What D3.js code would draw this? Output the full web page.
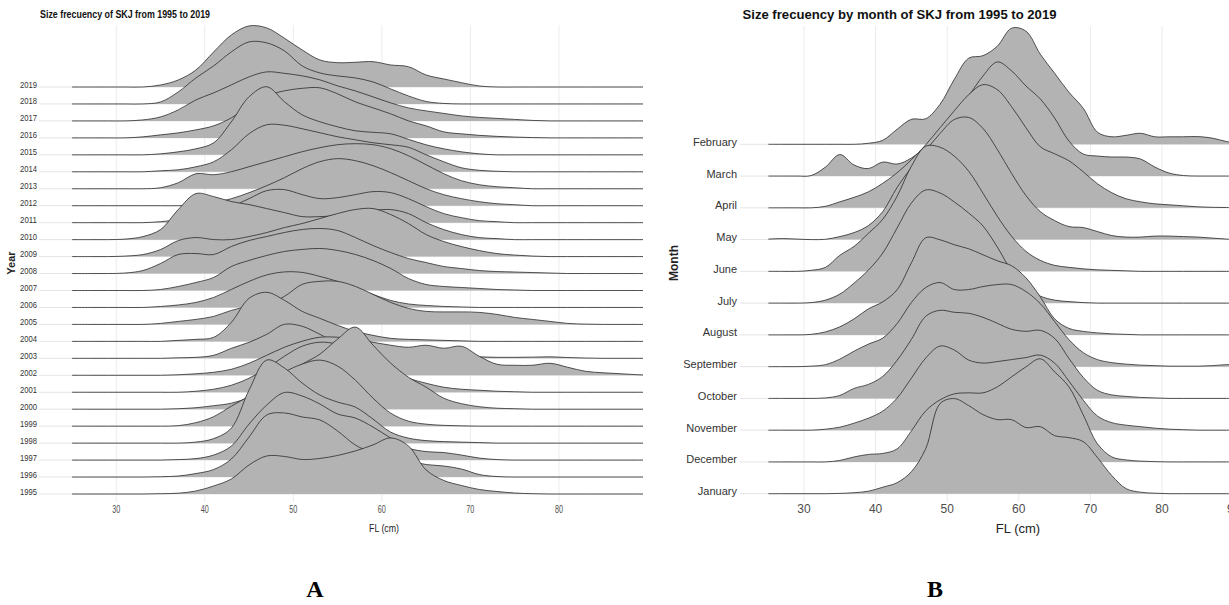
<!DOCTYPE html>
<html>
<head>
<meta charset="utf-8">
<script src="https://cdn.jsdelivr.net/npm/d3@7/dist/d3.min.js"></script>
<style>
  html, body { margin: 0; padding: 0; background: #ffffff; }
  svg { display: block; }
</style>
</head>
<body>
<svg id="fig" width="1229" height="605"></svg>
<script>
// Fork-length classes (cm) at which each smoothed frequency curve is sampled
const lengthGrid = [25,27,29,31,33,35,37,39,41,43,45,47,49,51,53,55,57,59,61,63,65,67,69,71,73,75,77,79,81,83,85,87,89,91];

// Panel A: one curve per year, listed bottom (1995) to top (2019)
const years = ["1995","1996","1997","1998","1999","2000","2001","2002","2003","2004","2005","2006","2007",
               "2008","2009","2010","2011","2012","2013","2014","2015","2016","2017","2018","2019"];
const yearDensity = [
  [0,0,0,0,0,0.3,0.8,3,8,15,29,38,37.5,34.5,35.5,38.5,43,49,56,48,24,13.5,8.5,4.5,2.5,1,0.3,0,0,0,0,0,0,0], // 1995
  [0,0,0,0,0,0.3,1,3.5,7.5,18,40,62,64,60,57,46,32,24,19,16,12.5,11,8,2.5,0.5,0,0,0,0,0,0,0,0,0],          // 1996
  [0,0,0,0,0,0,0.5,1.5,5,14,36,55,67.5,64,56,46,42,33,22,12,8.5,7.5,5,2,0.5,0,0,0,0,0,0,0,0,0],            // 1997
  [0,0,0,0,0,0,0,1,4.5,15,53,83,75,60,48,41,36,24,11,5,2.5,1.5,1,0.5,0,0,0,0,0,0,0,0,0,0],                 // 1998
  [0,0,0,0,0,0,0.5,3.5,9.5,20,30,42,54,62,66,60,46,28,13,5,2,0.8,0.3,0,0,0,0,0,0,0,0,0,0,0],               // 1999
  [0,0,0,0,0,0,0.5,1.5,3.5,6,12,22,35,45,55,70,82,64,46,32,22,11,5.5,2.5,1,0.5,0,0,0,0,0,0,0,0],          // 2000
  [0,0,0,0,0,0,0,1,3,7,14,24,36,46,50,48,42,32,22,14,9,5,3,2,1,0.5,0,0,0,0,0,0,0,0],                      // 2001
  [0,0,0,0,0,0,0.5,1.5,3,6,12,20,28,34,38,38,36,33,30,28,30,27,29,19,11,10,10,12,8,4,2.5,1.5,0.5,0],      // 2002
  [0,0,0,0,0,0,0.5,1,3,10,16,24,34,32,24,15,11,8,6,4.5,3.5,2.5,2,1.5,1,1,1.2,1.5,0.8,0.3,0,0,0,0],        // 2003
  [0,0,0,0,0,0,1,2,4,19,43,49,41,30,23,16,10,6,3,2,1.5,1,0.5,0,0,0,0,0,0,0,0,0,0,0],                      // 2004
  [0,0,0,0,0,1,3,5,8,14,18,20,28,40,43,43,38,30,22,16,13,12.5,12.5,12,10,7,5,3,1,0.3,0,0,0,0],            // 2005
  [0,0,0,0,0,1,2.5,5,10,18,26,32.5,35.5,35,31,26,19,13,7,3.5,2,1,0.5,0,0,0,0,0,0,0,0,0,0,0],              // 2006
  [0,0,0,0,0,1,4,8,13,24,30,35,39,41,42,40,36,30,22,12,6,4,3,2,1,0.5,0,0,0,0,0,0,0,0],                    // 2007
  [0,0,0,0.5,3,10,19,20,19,27,33,37,41,44,45,43,36,28,21,15,11,7,5,3,2,1.5,1,0.5,0,0,0,0,0,0],            // 2008
  [0,0,0,0.5,2,7,16,19,17,17,20,24,29,33,38,43,47,48,42,33,22,15,10,6,3,1.5,0.5,0,0,0,0,0,0,0],           // 2009
  [0,0,0,0.5,3,10,30,46,43,38,35,31,27,23,23,24,26,29,30,26,17,10,5,2,1,0,0,0,0,0,0,0,0,0],               // 2010
  [0,0,0,0,0,1,3,6,10,16,24,32,33,28,24,25,28,31,30,24,16,9,5,2,1,0,0,0,0,0,0,0,0,0],                     // 2011
  [0,0,0,0,0,0,0,1,3,7,13,20,28,37,44,47,45,40,33,25,17,11,7,4,2,1,0,0,0,0,0,0,0,0],                      // 2012
  [0,0,0,0,0,1,6,15,14,17,22,27,32,37,41,44,45,44,40,33,24,15,8,4,2,1,0,0,0,0,0,0,0,0],                   // 2013
  [0,0,0,0,0,1,2,5,10,22,38,47,46.5,43,39,35,32,29,27,24.5,17,10,4,1.5,0.5,0,0,0,0,0,0,0,0,0],           // 2014
  [0,0,0,0,0,1,3,6,12,33,58,68,53,40,33,28,24,22.5,21,15.5,10,6,3,1,0,0,0,0,0,0,0,0,0,0],                // 2015
  [0,0,0,0,1,3,5,8,12,20,32,42,47,49.5,50,44,36,30,24,17,12,6,4,2.5,1.5,0.8,0.3,0,0,0,0,0,0,0],          // 2016
  [0,0,0,0,1,4,11,21,28,36,44,49,47.5,45,41,35,30,24,18,13,10,7.5,5,3.5,2.5,1.5,0.5,0,0,0,0,0,0,0],      // 2017
  [0,0,0,0,0,2,12,26,38,52,62,61,53,38,31,28,26,22,15,8,2.5,0.5,0,0,0,0,0,0,0,0,0,0,0,0],                // 2018
  [0,0,0,0,0,2,7,17,35,52,61,59,48.7,37,27,24.3,24.7,25.3,22,20.3,12,8,4.3,1,0,0,0,0,0,0,0,0,0,0]        // 2019
];

// Panel B: one curve per month, listed bottom (January) to top (February)
const months = ["January","December","November","October","September","August",
                "July","June","May","April","March","February"];
const monthDensity = [
  [0,0,0,0,0,0.3,1,2.5,6.5,11,22,45,90,95,88,79,74,74,66,67,58,56,52,36,18,5,1.5,0.5,0,0,0,0,0,0],          // January
  [0,0,0,0,0,1.5,5,7.5,8.5,13,31,51,62,68,69,69,75,85,95,103,90,75,47,18,5,2,0.8,0.3,0,0,0,0,0,0],          // December
  [0,0,0,0,1,3,7,12,19,32,52,72,84,80,70,67,68.5,70.5,72.5,75,67,49,30,14,7.5,5,3.5,2,1,0.5,0,0,0,0],       // November
  [0,0,0,0,0.5,3,10,14,22,38,59,82,88,86,85,81,75,69,67,68,60,40,21,8,3.5,2,1,0.5,0,0,0,0,0,0],              // October
  [0,0,0,0.5,2,7.5,15.5,22.5,28.5,43,64,79,84,77,77,80,82,82,75,63,45,27,14,7,4,2.5,1.5,1,0.5,0.5,0.5,1,2,2], // September
  [0,0,0,0.5,3,8,16,26,33,45,72,97,95,90,86,80,74,69,57,38,16,6.5,3.5,2,1,0.5,0,0,0,0,0,0,0,0],              // August
  [0,0,0,0.5,3,9,20,33,50,75,100,113,110,101,90,77,56,32,16,7,3,1.5,0.5,0,0,0,0,0,0,0,0,0,0,0],              // July
  [0,0,0,1,4,16,25,38,52,75,105,125,124,115,100,78,55,35,20,11,6,4,2.5,1.5,1,0.5,0,0,0,0,0,0,0,0],           // June
  [0.5,1,0.5,0,0.3,3,7,14,28,52,72,89,106,120,122,111,90,66,44,28,19,13,12,8,4,2.5,2.5,3.5,3.5,3,2.5,1.5,0.5,0], // May
  [0,0,0,0,1.5,6,10.5,16,24.5,35,48,63,80,97,113,123,118,101,80,61,54,47,36,24,15,9,6,4,3,2,1,0.5,0.3,0],   // April
  [0,0,0,0.5,9,21.5,11,7.5,14,12,18,30,45,62,80,100,114,105,90,77,58,35,22,20,19,19,17,9,3,0.5,0,0,0,0],    // March
  [0,0,0,0,0,0,0,1,4,15,25,25.5,40,65,86,88.5,98,116,113,90,71,52,36,12,7.5,9,11,7.5,7.5,7.5,7.7,6.2,2.8,1] // February
];

const ticksA = [30, 40, 50, 60, 70, 80];
const ticksB = [30, 40, 50, 60, 70, 80, 90];

const svg = d3.select("#fig");
const FILL = "#b3b3b3";
const LINE = "#2b2b2b";
const GRID = "#ebebeb";

function ridgePanel(opt) {
  const g = svg.append("g");
  const x = d3.scaleLinear().domain(opt.xDomain).range(opt.xRange);
  const y = d3.scalePoint().domain(opt.labels).range(opt.yRange);
  const step = y.step();
  const maxV = d3.max(opt.density.flat());
  // tallest curve reaches `ridgeScale` row spacings
  const h = d3.scaleLinear().domain([0, maxV]).range([0, opt.ridgeScale * step]);
  const curve = d3.curveCatmullRom.alpha(0.5);

  // vertical grid lines
  g.append("g").selectAll("line").data(opt.ticks).join("line")
    .attr("x1", d => x(d)).attr("x2", d => x(d))
    .attr("y1", opt.gridTop).attr("y2", opt.gridBottom)
    .attr("stroke", GRID).attr("stroke-width", 1);

  // horizontal grid lines at each baseline
  g.append("g").selectAll("line").data(opt.labels).join("line")
    .attr("x1", opt.hGridLeft).attr("x2", opt.xRange[1])
    .attr("y1", d => y(d)).attr("y2", d => y(d))
    .attr("stroke", "#e4e4e4").attr("stroke-width", 1);

  const clipId = "clip" + opt.id;
  svg.append("clipPath").attr("id", clipId).append("rect")
    .attr("x", opt.xRange[0]).attr("y", 0)
    .attr("width", opt.xRange[1] - opt.xRange[0]).attr("height", 605);

  const ridges = g.append("g").attr("clip-path", `url(#${clipId})`);
  // back rows (top) first so that lower rows overlap them
  const order = d3.range(opt.labels.length).reverse();
  order.forEach(i => {
    const base = y(opt.labels[i]);
    const pts = opt.density[i].map((v, k) => [lengthGrid[k], v]);
    const area = d3.area().curve(curve)
      .x(d => x(d[0])).y0(base).y1(d => Math.min(base, base - h(d[1])));
    const line = d3.line().curve(curve)
      .x(d => x(d[0])).y(d => base - h(d[1]));
    ridges.append("path").attr("d", area(pts)).attr("fill", FILL);
    ridges.append("path").attr("d", line(pts)).attr("fill", "none")
      .attr("stroke", LINE).attr("stroke-width", 0.8);
  });

  return { g, x, y };
}

// ---------- Panel A ----------
const A = ridgePanel({
  id: "A", labels: years, density: yearDensity, ticks: ticksA,
  xDomain: [25, 89.5], xRange: [72, 643], yRange: [494, 87],
  ridgeScale: 4.9, gridTop: 25, gridBottom: 502, hGridLeft: 39
});

A.g.append("g").selectAll("text").data(years).join("text")
  .attr("x", 37).attr("y", d => A.y(d) + 0.5)
  .attr("text-anchor", "end")
  .attr("font-family", "Liberation Sans, Arial, sans-serif")
  .attr("font-size", 9).attr("fill", "#333")
  .attr("textLength", 17).attr("lengthAdjust", "spacingAndGlyphs")
  .text(d => d);

A.g.append("g").selectAll("text").data(ticksA).join("text")
  .attr("x", d => A.x(d)).attr("y", 513)
  .attr("text-anchor", "middle")
  .attr("font-family", "Liberation Sans, Arial, sans-serif")
  .attr("font-size", 10).attr("fill", "#4d4d4d")
  .attr("textLength", 8).attr("lengthAdjust", "spacingAndGlyphs")
  .text(d => d);

A.g.append("text").attr("x", 40).attr("y", 17.5)
  .attr("font-family", "Liberation Sans, Arial, sans-serif")
  .attr("font-weight", "bold").attr("font-size", 10).attr("fill", "#111")
  .attr("textLength", 170).attr("lengthAdjust", "spacingAndGlyphs")
  .text("Size frecuency of SKJ from 1995 to 2019");

A.g.append("text").attr("x", 384).attr("y", 532)
  .attr("text-anchor", "middle")
  .attr("font-family", "Liberation Sans, Arial, sans-serif")
  .attr("font-size", 10).attr("fill", "#222")
  .attr("textLength", 30).attr("lengthAdjust", "spacingAndGlyphs")
  .text("FL (cm)");

A.g.append("text")
  .attr("transform", "translate(15,263) rotate(-90)")
  .attr("text-anchor", "middle")
  .attr("font-family", "Liberation Sans, Arial, sans-serif")
  .attr("font-weight", "bold").attr("font-size", 11).attr("fill", "#222")
  .text("Year");

// ---------- Panel B ----------
const B = ridgePanel({
  id: "B", labels: months, density: monthDensity, ticks: ticksB,
  xDomain: [25, 90], xRange: [768.2, 1233.6], yRange: [493.7, 144.3],
  ridgeScale: 3.94, gridTop: 26, gridBottom: 502, hGridLeft: 740
});

B.g.append("g").selectAll("text").data(months).join("text")
  .attr("x", 737).attr("y", d => B.y(d) + 1.5)
  .attr("text-anchor", "end")
  .attr("font-family", "Liberation Sans, Arial, sans-serif")
  .attr("font-size", 11).attr("fill", "#333")
  .text(d => d);

B.g.append("g").selectAll("text").data(ticksB).join("text")
  .attr("x", d => B.x(d)).attr("y", 513)
  .attr("text-anchor", "middle")
  .attr("font-family", "Liberation Sans, Arial, sans-serif")
  .attr("font-size", 12).attr("fill", "#4d4d4d")
  .text(d => d);

B.g.append("text").attr("x", 742.5).attr("y", 19)
  .attr("font-family", "Liberation Sans, Arial, sans-serif")
  .attr("font-weight", "bold").attr("font-size", 12).attr("fill", "#111")
  .attr("textLength", 314).attr("lengthAdjust", "spacingAndGlyphs")
  .text("Size frecuency by month of SKJ from 1995 to 2019");

B.g.append("text").attr("x", 1018).attr("y", 533)
  .attr("text-anchor", "middle")
  .attr("font-family", "Liberation Sans, Arial, sans-serif")
  .attr("font-size", 13).attr("fill", "#222")
  .text("FL (cm)");

B.g.append("text")
  .attr("transform", "translate(678,263) rotate(-90)")
  .attr("text-anchor", "middle")
  .attr("font-family", "Liberation Sans, Arial, sans-serif")
  .attr("font-weight", "bold").attr("font-size", 12).attr("fill", "#222")
  .text("Month");

// ---------- Panel letters ----------
svg.append("g").selectAll("text").data([["A", 315], ["B", 935]]).join("text")
  .attr("x", d => d[1]).attr("y", 597)
  .attr("text-anchor", "middle")
  .attr("font-family", "Liberation Serif, Times New Roman, serif")
  .attr("font-weight", "bold").attr("font-size", 24).attr("fill", "#000")
  .text(d => d[0]);
</script>
</body>
</html>
